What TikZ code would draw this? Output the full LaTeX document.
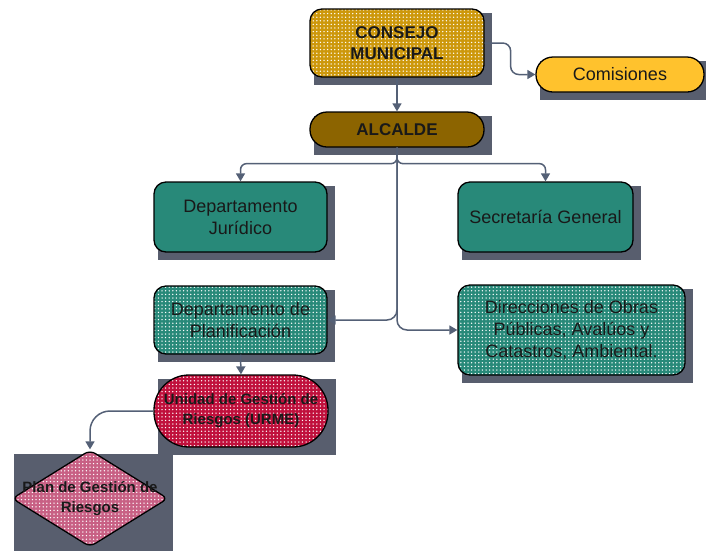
\documentclass[tikz,border=0pt]{standalone}
\usepackage{fontspec}
\setmainfont{Liberation Sans}
\usetikzlibrary{shapes.geometric,patterns,arrows.meta,calc}
\pgfdeclarelayer{background}
\pgfsetlayers{background,main}
\pgfdeclarepatternformonly{bigdots}{\pgfqpoint{-1pt}{-1pt}}{\pgfqpoint{1pt}{1pt}}{\pgfqpoint{3.6pt}{3.6pt}}{%
  \pgfpathcircle{\pgfqpoint{0pt}{0pt}}{0.75pt}\pgfusepath{fill}}
\definecolor{tealc}{RGB}{40,137,121}
\definecolor{goldc}{RGB}{205,152,12}
\definecolor{comc}{RGB}{255,194,45}
\definecolor{alcc}{RGB}{140,100,0}
\definecolor{urmec}{RGB}{192,16,60}
\definecolor{pinkc}{RGB}{200,96,132}
\definecolor{shadowc}{RGB}{88,94,110}
\definecolor{connc}{RGB}{84,96,118}
\newcommand\dropshade[1]{\fill[shadowc] ($(#1.north west)+(5,5)$) rectangle ($(#1.south east)+(7,7)$);}
\begin{document}
\begin{tikzpicture}[x=1pt,y=-1pt,
  box/.style={draw=black, line width=1.3pt, rounded corners=12pt, inner sep=2pt,
    align=center, text=black!90, font=\fontsize{18}{22}\selectfont},
  dotfill/.style={preaction={fill=#1}, pattern=bigdots, pattern color=white},
  boldtxt/.style={font=\bfseries\fontsize{17}{21}\selectfont},
  smallbold/.style={font=\bfseries\fontsize{15}{20}\selectfont},
  conn/.style={draw=connc, line width=1.5pt, -{Triangle[width=9pt,length=8pt]}}]
\useasboundingbox (0,0) rectangle (706,550);

\node[box, dotfill=goldc, boldtxt, minimum width=174pt, minimum height=68pt] (cm) at (397,43) {CONSEJO\\MUNICIPAL};
\node[box, fill=comc, rounded corners=17pt, minimum width=168pt, minimum height=35pt] (com) at (620,74.5) {Comisiones};
\node[box, fill=alcc, boldtxt, rounded corners=17pt, minimum width=174pt, minimum height=35pt] (alc) at (397,129.5) {ALCALDE};
\node[box, fill=tealc, minimum width=173pt, minimum height=70pt] (jur) at (240.5,217) {Departamento\\Jurídico};
\node[box, fill=tealc, minimum width=175pt, minimum height=70pt] (sec) at (545.5,217) {Secretaría General};
\node[box, dotfill=tealc, minimum width=173pt, minimum height=68pt] (planif) at (240.5,320) {Departamento de\\Planificación};
\node[box, dotfill=tealc, minimum width=227pt, minimum height=90pt] (dir) at (571.5,330) {Direcciones de Obras\\Públicas, Avalúos y\\Catastros, Ambiental.};
\node[box, dotfill=urmec, smallbold, rounded corners=35pt, minimum width=174pt, minimum height=72pt] (urme) at (241,411) {Unidad de Gestión de\\Riesgos (URME)};
\node[diamond, draw=black, line width=1.3pt, rounded corners=6pt, dotfill=pinkc, smallbold, text=black!90,
  aspect=1.6, inner sep=0pt, minimum width=156pt, minimum height=97pt] (pgr) at (90,498.5)
  {\makebox[0pt]{\begin{tabular}{@{}c@{}}Plan de Gestión de\\Riesgos\end{tabular}}};

\begin{pgfonlayer}{background}
\fill[white] (0,0) rectangle (706,550);
\dropshade{cm}
\dropshade{com}
\dropshade{alc}
\dropshade{jur}
\dropshade{sec}
\dropshade{planif}
\dropshade{dir}
\dropshade{urme}
\fill[shadowc] ($(pgr.west |- pgr.north)+(3,5)$) rectangle ($(pgr.east |- pgr.south)+(4,4)$);
\end{pgfonlayer}

\draw[conn, rounded corners=8pt] (cm.east) -- ++(26,0) |- (com.west);
\draw[conn] (cm.south) -- (alc.north);
\draw[conn, rounded corners=6pt] (alc.south) -- ++(0,16) -| (jur.north);
\draw[conn, rounded corners=6pt] (alc.south) -- ++(0,16) -| (sec.north);
\draw[conn, rounded corners=10pt] (alc.south) |- (planif.east);
\draw[conn, rounded corners=10pt] (alc.south) |- (dir.west);
\draw[conn] (planif.south) -- (urme.north);
\draw[conn, rounded corners=20pt] (urme.west) -| (pgr.north);
\end{tikzpicture}
\end{document}
